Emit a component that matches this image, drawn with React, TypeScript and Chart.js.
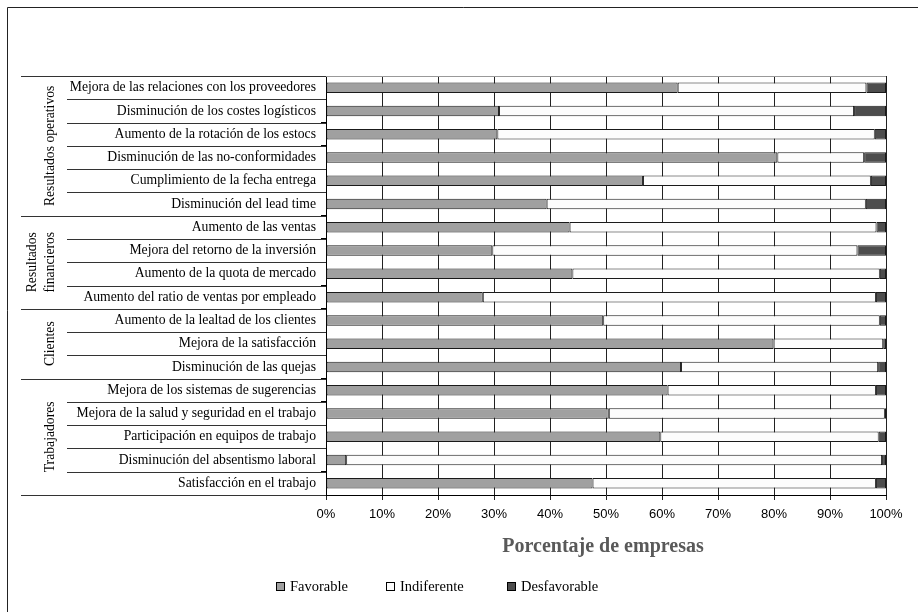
import { useEffect, useRef } from 'react';
import { Chart, registerables } from 'chart.js';
Chart.register(...registerables);

const categories = [
  'Mejora de las relaciones con los proveedores',
  'Disminución de los costes logísticos',
  'Aumento de la rotación de los estocs',
  'Disminución de las no-conformidades',
  'Cumplimiento de la fecha entrega',
  'Disminución del lead time',
  'Aumento de las ventas',
  'Mejora del retorno de la inversión',
  'Aumento de la quota de mercado',
  'Aumento del ratio de ventas por empleado',
  'Aumento de la lealtad de los clientes',
  'Mejora de la satisfacción',
  'Disminución de las quejas',
  'Mejora de los sistemas de sugerencias',
  'Mejora de la salud y seguridad en el trabajo',
  'Participación en equipos de trabajo',
  'Disminución del absentismo laboral',
  'Satisfacción en el trabajo',
];

const groupNames = [['Resultados operativos'], ['Resultados', 'financieros'], ['Clientes'], ['Trabajadores']];
const groupSizes = [6, 4, 3, 5];

const favorable = [62.8, 30.9, 30.6, 80.6, 56.6, 39.4, 43.5, 29.7, 44.0, 28.0, 49.5, 79.9, 63.4, 61.0, 50.5, 59.7, 3.6, 47.6];
const indiferente = [33.7, 63.4, 67.4, 15.5, 40.7, 57.0, 54.8, 65.2, 54.9, 70.2, 49.4, 19.6, 35.2, 37.2, 49.3, 39.0, 95.7, 50.6];
const desfavorable = [3.5, 5.7, 2.0, 3.9, 2.7, 3.6, 1.7, 5.1, 1.1, 1.8, 1.1, 0.5, 1.4, 1.8, 0.2, 1.3, 0.7, 1.8];

const seriesNames = ['Favorable', 'Indiferente', 'Desfavorable'];
const seriesColors = ['#a0a0a0', '#fcfcfc', '#4d4d4d'];
const xTicks = [0, 10, 20, 30, 40, 50, 60, 70, 80, 90, 100];
const axisTitle = 'Porcentaje de empresas';

const SERIF = '"Liberation Serif", "Times New Roman", serif';

const decorPlugin = {
  id: 'decor',
  afterDraw(chart: any) {
    const ctx = chart.ctx as CanvasRenderingContext2D;
    const area = chart.chartArea;
    const yScale = chart.scales.y;
    const n = categories.length;
    const rowH = (area.bottom - area.top) / n;

    ctx.save();
    // outer frame (left + top)
    ctx.strokeStyle = '#222';
    ctx.lineWidth = 1;
    ctx.beginPath();
    ctx.moveTo(7.5, 700);
    ctx.lineTo(7.5, 7.5);
    ctx.lineTo(1000, 7.5);
    ctx.stroke();

    // top border of plot
    ctx.strokeStyle = '#999';
    ctx.beginPath();
    ctx.moveTo(area.left, Math.round(area.top) + 0.5);
    ctx.lineTo(area.right, Math.round(area.top) + 0.5);
    ctx.stroke();

    // separators
    const groupBounds = new Set<number>();
    let acc = 0;
    groupBounds.add(0);
    groupSizes.forEach((s) => { acc += s; groupBounds.add(acc); });
    ctx.strokeStyle = '#333';
    for (let i = 0; i <= n; i++) {
      const y = Math.round(area.top + i * rowH) + 0.5;
      const x0 = groupBounds.has(i) ? 21 : 67;
      ctx.beginPath();
      ctx.moveTo(x0, y);
      ctx.lineTo(area.left, y);
      ctx.stroke();
    }

    // category labels
    ctx.fillStyle = '#000';
    ctx.font = `13.7px ${SERIF}`;
    ctx.textAlign = 'right';
    ctx.textBaseline = 'middle';
    categories.forEach((c, i) => {
      const y = yScale.getPixelForValue(i);
      ctx.fillText(c, 316, y);
    });

    // group labels
    let start = 0;
    groupNames.forEach((lines, gi) => {
      const cy = area.top + (start + groupSizes[gi] / 2) * rowH;
      const xs = lines.length === 1 ? [50] : [32, 50];
      lines.forEach((t, li) => {
        ctx.save();
        ctx.translate(xs[li], cy);
        ctx.rotate(-Math.PI / 2);
        ctx.textAlign = 'center';
        ctx.textBaseline = 'middle';
        ctx.font = `13.7px ${SERIF}`;
        ctx.fillStyle = '#000';
        ctx.fillText(t, 0, 0);
        ctx.restore();
      });
      start += groupSizes[gi];
    });

    // axis title
    ctx.font = `bold 20px ${SERIF}`;
    ctx.fillStyle = '#595959';
    ctx.textAlign = 'center';
    ctx.textBaseline = 'middle';
    ctx.fillText(axisTitle, (area.left + area.right) / 2 - 3, 547);

    // legend
    const legendX = [276, 386, 507];
    const legendY = 587;
    ctx.font = `14.5px ${SERIF}`;
    ctx.textAlign = 'left';
    ctx.textBaseline = 'middle';
    seriesNames.forEach((name, i) => {
      const x = legendX[i];
      ctx.fillStyle = seriesColors[i];
      ctx.fillRect(x + 0.5, legendY - 4.5, 8, 8);
      ctx.strokeStyle = '#000';
      ctx.strokeRect(x + 0.5, legendY - 4.5, 8, 8);
      ctx.fillStyle = '#000';
      ctx.fillText(name, x + 14, legendY);
    });
    ctx.restore();
  },
};

export default function App() {
  const ref = useRef<HTMLCanvasElement>(null);
  useEffect(() => {
    const values = [favorable, indiferente, desfavorable];
    const chart = new Chart(ref.current as HTMLCanvasElement, {
      type: 'bar',
      data: {
        labels: categories,
        datasets: seriesNames.map((name, i) => ({
          label: name,
          data: values[i],
          backgroundColor: seriesColors[i],
          borderColor: '#1a1a1a',
          borderWidth: 1,
          borderSkipped: false,
          barPercentage: 0.45,
          categoryPercentage: 1,
        })),
      },
      options: {
        indexAxis: 'y',
        responsive: false,
        animation: false,
        devicePixelRatio: 1,
        layout: { padding: { top: 76, right: 32, left: 0, bottom: 0 } },
        plugins: { legend: { display: false }, tooltip: { enabled: false } },
        scales: {
          x: {
            stacked: true,
            min: 0,
            max: 100,
            afterBuildTicks: (s: any) => { s.ticks = xTicks.map((v) => ({ value: v })); },
            afterFit: (s: any) => { s.height = 117; },
            ticks: {
              callback: (v: any) => `${v}%`,
              font: { family: '"Liberation Sans", Arial, sans-serif', size: 13 },
              color: '#000',
              padding: 7,
              maxRotation: 0,
            },
            grid: { color: '#222', lineWidth: 1, tickLength: 5, drawTicks: true },
            border: { display: true, color: '#000' },
          },
          y: {
            stacked: true,
            afterFit: (s: any) => { s.width = 326; },
            ticks: { display: false },
            grid: { drawOnChartArea: false, offset: true, tickLength: 5, color: '#000' },
            border: { display: true, color: '#000' },
          },
        },
      },
      plugins: [decorPlugin],
    } as any);
    return () => chart.destroy();
  }, []);
  return (
    <div style={{ position: 'fixed', left: 0, top: 0, width: 918, height: 612, background: '#fff' }}>
      <canvas ref={ref} width={918} height={612} style={{ display: 'block' }} />
    </div>
  );
}
